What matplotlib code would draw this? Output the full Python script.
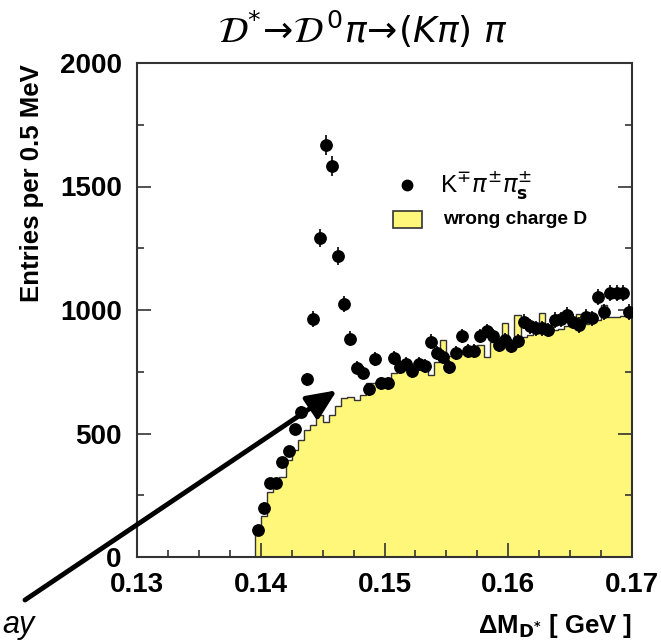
import numpy as np
import matplotlib
matplotlib.use("Agg")
import matplotlib.pyplot as plt
from matplotlib.ticker import MultipleLocator, FormatStrFormatter
from matplotlib.patches import Rectangle

plt.rcParams["font.family"] = ["Liberation Sans", "DejaVu Sans"]

# 0.5 MeV bins starting just below the pi threshold
BIN_LO = 0.1395
BIN_W = 0.0005

# right-sign K-/+ pi+/- pi_s+/- candidates (points)
right_sign = [109, 197, 301, 301, 386, 429, 517, 586, 719, 963,
              1293, 1668, 1583, 1219, 1024, 884, 767, 746, 679, 800,
              703, 703, 807, 770, 781, 754, 781, 773, 872, 825,
              811, 770, 827, 895, 835, 835, 895, 915, 895, 858,
              879, 854, 874, 953, 935, 926, 926, 919, 960, 962,
              980, 953, 939, 973, 966, 1054, 993, 1068, 1068, 1068,
              993]

# wrong charge D (histogram)
wrong_charge = [100, 165, 264, 285, 325, 393, 433, 474, 514, 534,
                575, 548, 575, 611, 642, 649, 636, 656, 706, 703,
                723, 717, 746, 750, 760, 770, 775, 770, 737, 790,
                879, 815, 820, 830, 835, 845, 860, 811, 870, 860,
                946, 870, 980, 892, 900, 905, 986, 915, 920, 925,
                935, 940, 985, 945, 950, 960, 1020, 973, 973, 975,
                980]

YELLOW = "#fff77a"

counts = np.array(right_sign, dtype=float)
wrong = np.array(wrong_charge, dtype=float)
edges = BIN_LO + BIN_W * np.arange(len(wrong) + 1)
centers = 0.5 * (edges[:-1] + edges[1:])

fig = plt.figure(figsize=(6.61, 6.41), dpi=100)
ax = fig.add_axes([137 / 661, 84 / 641, 495 / 661, 494 / 641])

ax.stairs(wrong, edges, fill=True, facecolor=YELLOW, edgecolor="#333333", lw=1.0, zorder=1)
ax.errorbar(centers, counts, yerr=np.sqrt(counts), fmt="o", color="black",
            ms=8.2, elinewidth=1.2, capsize=0, zorder=3)

ax.set_xlim(0.13, 0.17)
ax.set_ylim(0, 2000)
ax.xaxis.set_major_locator(MultipleLocator(0.01))
ax.xaxis.set_minor_locator(MultipleLocator(0.0025))
ax.xaxis.set_major_formatter(FormatStrFormatter("%.2f"))
ax.yaxis.set_major_locator(MultipleLocator(500))
ax.yaxis.set_minor_locator(MultipleLocator(250))
ax.tick_params(which="both", direction="in", right=True, top=False, width=1.2, color="#333333")
ax.tick_params(which="major", length=10, labelsize=20)
ax.tick_params(axis="x", which="major", pad=11)
ax.tick_params(axis="y", which="major", pad=11)
ax.tick_params(which="minor", length=5)
for lab in ax.get_xticklabels() + ax.get_yticklabels():
    lab.set_fontweight("bold")
for s in ax.spines.values():
    s.set_linewidth(1.5)
    s.set_color("#333333")

# labels
fig.text(32 / 661, 1 - 64 / 641, "Entries per 0.5 MeV", rotation=90, ha="center", va="top",
         fontsize=18.5, fontweight="bold")
fig.text(632 / 661, 1 - 626 / 641, r"ΔM$_{\mathbf{D^{*}}}$ [ GeV ]", ha="right", va="center",
         fontsize=18.5, fontweight="bold")
fig.text(363 / 661, 1 - 30 / 641,
         r"$\mathcal{D}^{*}\!\rightarrow\!\mathcal{D}^{\,0}\pi\!\rightarrow\!(K\pi)\ \pi$",
         ha="center", va="center", fontsize=26)

# legend, drawn by hand to mimic the ROOT layout
ax.plot([0.545], [0.753], "o", color="black", ms=7.5, transform=ax.transAxes, clip_on=False)
ax.text(0.613, 0.753, r"K$^{\mp}\pi^{\pm}\pi_{\mathbf{s}}^{\pm}$", transform=ax.transAxes,
        ha="left", va="center", fontsize=17.5)
ax.add_patch(Rectangle((0.517, 0.665), 0.058, 0.036, transform=ax.transAxes,
                       facecolor=YELLOW, edgecolor="#333333", lw=1.2))
ax.text(0.618, 0.683, "wrong charge D", transform=ax.transAxes, ha="left", va="center",
        fontsize=13.8, fontweight="bold")

# arrow pointing at the signal region
ax.annotate("", xy=(0.14616, 675), xycoords="data",
            xytext=(25 / 661, 1 - 600 / 641), textcoords="figure fraction",
            arrowprops=dict(arrowstyle="-|>,head_length=0.45,head_width=0.2",
                            mutation_scale=40, lw=3.5, color="black", shrinkA=0, shrinkB=0),
            annotation_clip=False, zorder=5)
fig.text(2 / 661, 1 - 625 / 641, "ay", ha="left", va="center", fontsize=22, style="italic")

fig.savefig("out.png", dpi=100)
